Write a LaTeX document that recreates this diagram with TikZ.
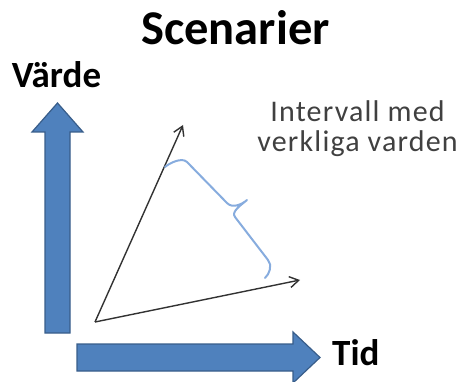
\documentclass[tikz,border=0pt]{standalone}
\usepackage{fontspec}
\setmainfont{Carlito}
\usetikzlibrary{arrows.meta,positioning}
\definecolor{officeblue}{RGB}{79,129,189}
\definecolor{officeedge}{RGB}{56,93,138}
\definecolor{bracelight}{RGB}{135,172,222}
\definecolor{darkgreytext}{RGB}{64,64,64}
\definecolor{arrowgrey}{RGB}{50,50,50}
\tikzset{
  base/.style={inner sep=0pt, anchor=base},
  heading/.style={base, font=\fontsize{48.5}{52}\selectfont\bfseries, text=black},
  axislbl/.style={base, font=\fontsize{37}{40}\selectfont\bfseries, text=black},
  notelbl/.style={base, font=\fontsize{30}{30}\selectfont\addfontfeatures{LetterSpace=4}, text=darkgreytext, align=center},
  blockarr/.style={fill=officeblue, draw=officeedge, line width=1.2pt, line join=miter},
  thin/.style={-{Straight Barb[length=9pt,width=11pt]}, line width=1.4pt, draw=arrowgrey},
  bracket/.style={line width=2pt, draw=bracelight, line cap=round, line join=round},
}
\begin{document}
\begin{tikzpicture}[x=1pt,y=1pt]
  \useasboundingbox (0,0) rectangle (464,381);
  % labels
  \node[heading] (title) at (235.5,336) {Scenarier};
  \node[axislbl] (vlbl) at (56.5,293) {Värde};
  \node[axislbl,anchor=base west] (tlbl) at (332,16) {Tid};
  \node[notelbl] (note) at (357.5,229) {Intervall med\\verkliga varden};
  % block arrows
  \draw[blockarr] (45,48) -- (45,249) -- (32,249) -- (57.5,278) -- (83,249) -- (70,249) -- (70,48) -- cycle;
  \draw[blockarr] (77,37) -- (293,37) -- (293,49) -- (320,23.5) -- (293,-2) -- (293,10) -- (77,10) -- cycle;
  % scenarios
  \coordinate (origin) at (95,59);
  \coordinate (high) at (183,256);
  \coordinate (low) at (300,101);
  \draw[thin] (origin) -- (high);
  \draw[thin] (origin) -- (low);
  % brace between the two scenarios
  \coordinate (bhi) at (165,214);
  \coordinate (btip) at (247,181);
  \coordinate (blo) at (265,103);
  \draw[bracket] (bhi) .. controls (169.5,218) and (182,224) .. (187,219) -- (227,178)
    .. controls (232.5,172) and (242.5,177) .. (btip)
    .. controls (242.5,177) and (230.4,169.3) .. (235,164) -- (268,121)
    .. controls (272.6,115.7) and (269.5,107) .. (blo);
\end{tikzpicture}
\end{document}
